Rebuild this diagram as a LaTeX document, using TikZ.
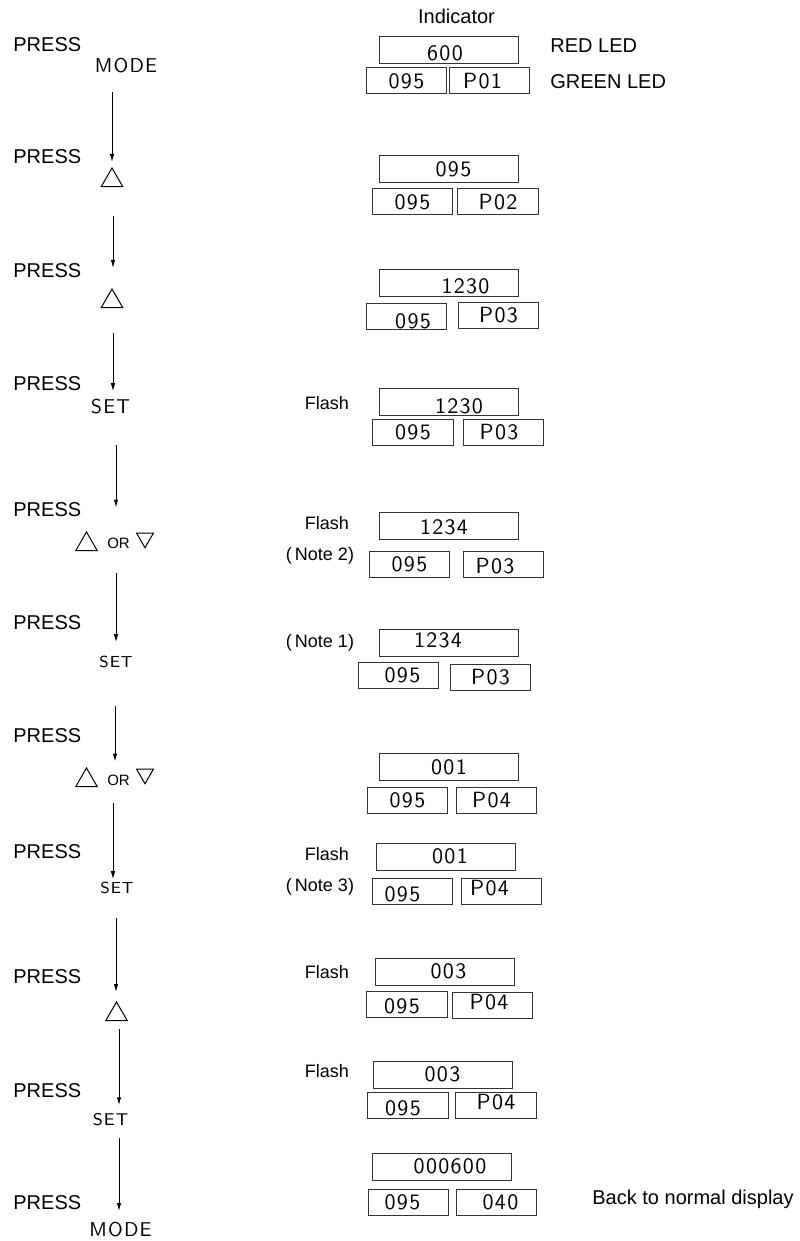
\documentclass[tikz,border=0pt]{standalone}
\usepackage{fontspec}
\setmainfont{Liberation Sans}
\newfontfamily\lcdfont{Latin Modern Sans}[LetterSpace=6]
\usetikzlibrary{positioning, shapes.geometric, arrows.meta, calc}
\definecolor{boxgray}{HTML}{333333}
% shift the digits inside a display box
\newcommand{\offtxt}[3]{\makebox[0pt]{\hspace{#1}\hspace{#1}\raisebox{#2}{#3}}}

\begin{document}
\begin{tikzpicture}[x=0.5pt, y=-0.5pt,
    press/.style={font=\fontsize{10}{12}\selectfont, anchor=west, inner sep=0pt},
    note/.style={font=\fontsize{9}{11}\selectfont, inner sep=0pt},
    keytxt/.style={font=\lcdfont\fontsize{10}{12}\selectfont, inner sep=0pt},
    keysmall/.style={font=\lcdfont\fontsize{8}{10}\selectfont, inner sep=0pt},
    ortxt/.style={font=\fontsize{7.5}{9}\selectfont, inner sep=0pt},
    keytri/.style={regular polygon, regular polygon sides=3, draw, line width=0.5pt,
      inner sep=0pt, outer sep=0pt, minimum size=12.4pt},
    downtri/.style={keytri, shape border rotate=180, minimum size=9.8pt},
    redbox/.style={draw=boxgray, line width=0.5pt, minimum width=69.5pt, minimum height=13.5pt,
      inner sep=0pt, text height=7.2pt, text depth=0pt, font=\lcdfont\fontsize{11}{13}\selectfont},
    grnbox/.style={redbox, minimum width=40.25pt, minimum height=13pt},
    arr/.style={-{Latex[length=4pt,width=2.2pt]}, line width=0.5pt}]
  \useasboundingbox (0,0) rectangle (799,1241);

  % left column: keys to press
  \node[press] (press1) at (13,45) {PRESS};
  \node[press] (press2) at (13,157) {PRESS};
  \node[press] (press3) at (13,271) {PRESS};
  \node[press] (press4) at (13,384) {PRESS};
  \node[press] (press5) at (13,510) {PRESS};
  \node[press] (press6) at (13,623) {PRESS};
  \node[press] (press7) at (13,736) {PRESS};
  \node[press] (press8) at (13,852) {PRESS};
  \node[press] (press9) at (13,977) {PRESS};
  \node[press] (press10) at (13,1091) {PRESS};
  \node[press] (press11) at (13,1203) {PRESS};

  \node[keytxt] (key1) at (126,66) {MODE};
  \node[keytri] (key2) at (112,180.4) {};
  \node[keytri] (key3) at (112,301.4) {};
  \node[keytxt] (key4) at (110.5,407) {SET};
  \node[keytri] (up5) at (86.5,544.4) {};
  \node[ortxt] (key5) at (118.5,543) {OR};
  \node[downtri] (down5) at (145,537.9) {};
  \node[keysmall] (key6) at (116,662) {SET};
  \node[keytri] (up7) at (86.5,780.4) {};
  \node[ortxt] (key7) at (118.5,780) {OR};
  \node[downtri] (down7) at (145,773.9) {};
  \node[keysmall] (key8) at (117,888) {SET};
  \node[keytri] (key9) at (116.5,1014.4) {};
  \node[keysmall, font=\lcdfont\fontsize{8.5}{10}\selectfont] (key10) at (110.5,1120) {SET};
  \node[keytxt] (key11) at (120.5,1229.5) {MODE};

  \draw[arr] ($(key1.south)+(-14,18)$) -- ($(key2.north)+(0,-6)$);
  \draw[arr] ($(key2.south)+(1,29.4)$) -- ($(key3.north)+(1,-21)$);
  \draw[arr] ($(key3.south)+(1,25.4)$) -- ($(key4.north)+(2.5,-8)$);
  \draw[arr] ($(key4.south)+(5.5,30)$) -- ($(key5.north)+(-2.5,-29.6)$);
  \draw[arr] ($(key5.south)+(-2.5,24.6)$) -- ($(key6.north)+(0,-13.5)$);
  \draw[arr] ($(key6.south)+(-1,37.5)$) -- ($(key7.north)+(-3.5,-12.6)$);
  \draw[arr] ($(key7.south)+(-5.5,17.6)$) -- ($(key8.north)+(-4,-2.5)$);
  \draw[arr] ($(key8.south)+(-1,23.5)$) -- ($(key9.north)+(-0.5,-10)$);
  \draw[arr] ($(key9.south)+(2.5,8.4)$) -- ($(key10.north)+(8.5,-8.1)$);
  \draw[arr] ($(key10.south)+(8.5,11.1)$) -- ($(key11.north)+(-1.5,-10.6)$);

  % right column: indicator
  \node[font=\fontsize{10}{12}\selectfont] (indic) at (456.5,16) {Indicator};
  \node[press] (redled) at (550,46) {RED LED};
  \node[press] (grnled) at (550,82) {GREEN LED};

  \node[redbox] (red1) at (448.5,50.5) {\offtxt{-1.75pt}{-1.5pt}{600}};
  \node[grnbox] (left1) at (406.5,81) {095};
  \node[grnbox] (right1) at (489.5,81) {\offtxt{-3.5pt}{0pt}{P01}};

  \node[redbox] (red2) at (448.5,169.5) {\offtxt{2.5pt}{0pt}{095}};
  \node[grnbox] (left2) at (412.5,202) {095};
  \node[grnbox] (right2) at (498,202) {P02};

  \node[redbox] (red3) at (448.5,282.5) {\offtxt{8.5pt}{-1.75pt}{1230}};
  \node[grnbox] (left3) at (406.5,316) {\offtxt{3.25pt}{-2.75pt}{095}};
  \node[grnbox] (right3) at (498.5,315) {P03};

  \node[note] (flash4) at (327,403) {Flash};
  \node[redbox] (red4) at (448.5,402) {\offtxt{5.25pt}{-2.25pt}{1230}};
  \node[grnbox] (left4) at (413,432) {095};
  \node[grnbox] (right4) at (503.5,432) {\offtxt{-2.25pt}{0pt}{P03}};

  \node[note] (flash5) at (327,523) {Flash};
  \node[note] (note2) at (320,556) {(\kern1.5pt Note 2)};
  \node[redbox] (red5) at (449,526) {\offtxt{-2.5pt}{-0.75pt}{1234}};
  \node[grnbox] (left5) at (409.5,564) {095};
  \node[grnbox] (right5) at (503.5,564) {\offtxt{-4.25pt}{-1.25pt}{P03}};

  \node[note] (note1) at (320,643) {(\kern1.5pt Note 1)};
  \node[redbox] (red6) at (449,643) {\offtxt{-5.5pt}{1.25pt}{1234}};
  \node[grnbox] (left6) at (398.5,675) {\offtxt{2pt}{0pt}{095}};
  \node[grnbox] (right6) at (490.5,677) {P03};

  \node[redbox] (red7) at (449,767) {001};
  \node[grnbox] (left7) at (407.5,800) {095};
  \node[grnbox] (right7) at (496.5,800) {\offtxt{-2.5pt}{0pt}{P04}};

  \node[note] (flash8) at (327,854) {Flash};
  \node[note] (note3) at (320,887) {(\kern1.5pt Note 3)};
  \node[redbox] (red8) at (446,856.5) {\offtxt{2pt}{0pt}{001}};
  \node[grnbox] (left8) at (412.5,891) {\offtxt{-5pt}{-1.75pt}{095}};
  \node[grnbox] (right8) at (501.5,891.5) {\offtxt{-6pt}{1.75pt}{P04}};

  \node[note] (flash9) at (327,972) {Flash};
  \node[redbox] (red9) at (444.5,971.5) {\offtxt{2pt}{0pt}{003}};
  \node[grnbox] (left9) at (407,1004.5) {\offtxt{-2.5pt}{-0.75pt}{095}};
  \node[grnbox] (right9) at (492.5,1005) {\offtxt{-1.75pt}{1.5pt}{P04}};

  \node[note] (flash10) at (327,1071) {Flash};
  \node[redbox] (red10) at (442.5,1074.5) {003};
  \node[grnbox] (left10) at (408,1105) {\offtxt{-2.5pt}{-1.5pt}{095}};
  \node[grnbox] (right10) at (496,1105) {\offtxt{0pt}{1.25pt}{P04}};

  \node[redbox] (red11) at (442,1166.5) {\offtxt{4pt}{0pt}{000600}};
  \node[grnbox] (left11) at (408.5,1202) {\offtxt{-3pt}{0pt}{095}};
  \node[grnbox] (right11) at (496.5,1202) {\offtxt{2pt}{0pt}{040}};
  \node[press] (backnote) at (592,1199) {Back to normal display};
\end{tikzpicture}
\end{document}
